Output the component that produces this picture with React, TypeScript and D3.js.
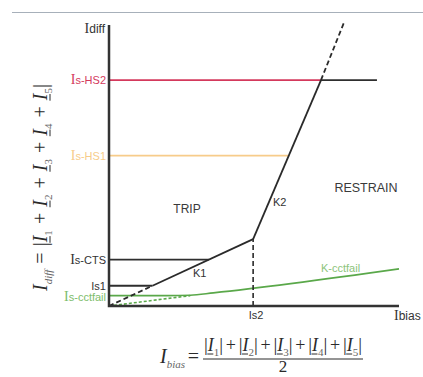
import * as d3 from "d3"
import { useRef, useEffect } from "react"

// protection levels on the Idiff axis
const levelNames = ["s-HS2", "s-HS1", "s-CTS", "Is1"]
const levelValues = [8.04, 5.35, 1.65, 0.72]
const levelColors = ["#d4395c", "#f7cc8a", "#2e2e2e", "#2e2e2e"]
const levelSerifI = [true, true, true, false]

// restraint characteristic (K1 then K2)
const charX = [0, 1.5, 4.97, 7.31, 8.1]
const charY = [0, 0.72, 2.38, 8.04, 10.08]
const charDashed = [true, false, false, true]

const is2 = 4.97
const hs2End = 9.24

// circuit fail characteristic
const cctfailLevel = 0.37
const cctX = [0, 2.0, 2.8, 3.6, 10]
const cctY = [0.37, 0.37, 0.385, 0.468, 1.32]
const cctDashX = [0, 2.8]
const cctDashY = [0, 0.37]

const SERIF = "'Liberation Serif', 'Times New Roman', serif"
const SANS = "'Liberation Sans', Arial, sans-serif"

type Tok = { t: string, size?: number, italic?: boolean, sub?: boolean, underline?: boolean, op?: boolean }

// lays tokens out one after another, spreading slack around operators
function layout(g: any, tokens: Tok[], target: number) {
  const items = tokens.map((tok) => {
    const el = g.append("text")
      .text(tok.t)
      .attr("font-family", SERIF)
      .attr("font-size", tok.size || (tok.sub ? 11 : 20))
      .attr("font-style", tok.italic ? "italic" : "normal")
      .attr("fill", tok.sub ? "#666" : "#2a2a2a")
      .attr("y", tok.sub ? 5 : 0)
    return { el, tok, w: el.node().getComputedTextLength() }
  })
  const natural = d3.sum(items, (d) => d.w)
  const ops = items.filter((d) => d.tok.op).length
  const slack = ops ? Math.max(0, (target - natural) / (2 * ops)) : 0
  let cx = 0
  items.forEach((d) => {
    if (d.tok.op) cx += slack
    d.el.attr("x", cx)
    if (d.tok.underline) {
      g.append("line")
        .attr("x1", cx - 0.5).attr("x2", cx + d.w - 0.5)
        .attr("y1", 3).attr("y2", 3)
        .attr("stroke", "#2a2a2a").attr("stroke-width", 1)
    }
    cx += d.w
    if (d.tok.op) cx += slack
  })
}

export default function App() {
  const ref = useRef<SVGSVGElement>(null)

  useEffect(() => {
    const width = 423
    const height = 377
    const svg = d3.select(ref.current)
    svg.selectAll("*").remove()
    svg.attr("width", width).attr("height", height)

    const x = d3.scaleLinear().domain([0, 10]).range([109, 399])
    const y = d3.scaleLinear().domain([0, 10]).range([306, 25])

    // top rule
    svg.append("line")
      .attr("x1", 12).attr("x2", width).attr("y1", 12.5).attr("y2", 12.5)
      .attr("stroke", "#a7b0ba").attr("stroke-width", 1.2)

    const line = d3.line<[number, number]>().x((d) => x(d[0])).y((d) => y(d[1]))

    // level lines
    const charXAt = (v: number) => {
      for (let i = 0; i < charY.length - 1; i++) {
        if (v >= charY[i] && v <= charY[i + 1]) {
          return charX[i] + (v - charY[i]) / (charY[i + 1] - charY[i]) * (charX[i + 1] - charX[i])
        }
      }
      return charX[charX.length - 1]
    }

    svg.append("path")
      .attr("d", line([[charXAt(levelValues[0]), levelValues[0]], [hs2End, levelValues[0]]]))
      .attr("stroke", "#2e2e2e").attr("stroke-width", 1.8).attr("fill", "none")

    levelValues.forEach((v, i) => {
      svg.append("path")
        .attr("d", line([[0, v], [charXAt(v), v]]))
        .attr("stroke", levelColors[i]).attr("stroke-width", 1.8).attr("fill", "none")

      const t = svg.append("text")
        .attr("x", x(0) - 3).attr("y", y(v) + 4)
        .attr("text-anchor", "end")
        .attr("fill", levelColors[i] === "#2e2e2e" ? "#333" : levelColors[i])
      if (levelSerifI[i]) {
        t.append("tspan").attr("font-family", SERIF).attr("font-size", 14).text("I")
      }
      t.append("tspan").attr("font-family", SANS).attr("font-size", 11).text(levelNames[i])
    })

    // circuit fail
    svg.append("path")
      .attr("d", line.curve(d3.curveMonotoneX)(cctX.map((d, i) => [d, cctY[i]])))
      .attr("stroke", "#5aa84a").attr("stroke-width", 1.6).attr("fill", "none")
    line.curve(d3.curveLinear)
    svg.append("path")
      .attr("d", line(cctDashX.map((d, i) => [d, cctDashY[i]])))
      .attr("stroke", "#5aa84a").attr("stroke-width", 1.6).attr("fill", "none")
      .attr("stroke-dasharray", "3,2")
    const ct = svg.append("text")
      .attr("x", x(0) - 3).attr("y", y(cctfailLevel) + 5)
      .attr("text-anchor", "end").attr("fill", "#7dbd6b")
    ct.append("tspan").attr("font-family", SERIF).attr("font-size", 14).text("I")
    ct.append("tspan").attr("font-family", SANS).attr("font-size", 11).text("s-cctfail")

    // characteristic K1 / K2
    for (let i = 0; i < charX.length - 1; i++) {
      svg.append("path")
        .attr("d", line([[charX[i], charY[i]], [charX[i + 1], charY[i + 1]]]))
        .attr("stroke", "#2a2a2a").attr("stroke-width", 1.8).attr("fill", "none")
        .attr("stroke-dasharray", charDashed[i] ? "5,3" : null)
    }

    // Is2 drop line
    svg.append("path")
      .attr("d", line([[is2, 0], [is2, charY[2]]]))
      .attr("stroke", "#2a2a2a").attr("stroke-width", 1.6).attr("fill", "none")
      .attr("stroke-dasharray", "5,3")

    // axes
    svg.append("path")
      .attr("d", line([[0, 10], [0, 0], [10, 0]]))
      .attr("stroke", "#333").attr("stroke-width", 2.5).attr("fill", "none")

    // axis labels
    const idl = svg.append("text").attr("x", x(0) - 4).attr("y", 33).attr("text-anchor", "end").attr("fill", "#333")
    idl.append("tspan").attr("font-family", SERIF).attr("font-size", 14).text("I")
    idl.append("tspan").attr("font-family", SANS).attr("font-size", 12).text("diff")

    const ibl = svg.append("text").attr("x", 394).attr("y", 320).attr("fill", "#333")
    ibl.append("tspan").attr("font-family", SERIF).attr("font-size", 14).text("I")
    ibl.append("tspan").attr("font-family", SANS).attr("font-size", 12).text("bias")

    svg.append("text").attr("x", x(is2) + 3).attr("y", 319).attr("text-anchor", "middle")
      .attr("font-family", SANS).attr("font-size", 11).attr("fill", "#333").text("Is2")

    // region and slope labels
    const lab = (tx: number, ty: number, s: string, size: number, color: string, anchor = "start") =>
      svg.append("text").attr("x", tx).attr("y", ty).attr("text-anchor", anchor)
        .attr("font-family", SANS).attr("font-size", size).attr("fill", color).text(s)
    lab(187, 213, "TRIP", 12, "#3a3a3a", "middle")
    lab(366, 192, "RESTRAIN", 12.5, "#3a3a3a", "middle")
    lab(193, 277, "K1", 11, "#333")
    lab(273, 206, "K2", 11, "#333")
    lab(321, 272, "K-cctfail", 11, "#8cc47b")

    // Idiff formula (rotated)
    const fy = svg.append("g").attr("transform", "translate(47,291) rotate(-90)")
    const yTokens: Tok[] = [
      { t: "I", italic: true }, { t: "diff", italic: true, sub: true },
      { t: "=", op: true }, { t: "|" },
    ]
    ;[1, 2, 3, 4, 5].forEach((n, i) => {
      if (i > 0) yTokens.push({ t: "+", op: true })
      yTokens.push({ t: "I", italic: true, underline: true }, { t: String(n), sub: true })
    })
    yTokens.push({ t: "|" })
    layout(fy, yTokens, 207)

    // Ibias formula
    const fb = svg.append("g").attr("transform", "translate(160,363)")
    layout(fb, [{ t: "I", italic: true }, { t: "bias", italic: true, sub: true }, { t: "=", op: true }], 42)

    const fn = svg.append("g").attr("transform", "translate(204,351)")
    const nTokens: Tok[] = []
    ;[1, 2, 3, 4, 5].forEach((n, i) => {
      if (i > 0) nTokens.push({ t: "+", op: true, size: 18 })
      nTokens.push({ t: "|", size: 19 }, { t: "I", italic: true, underline: true, size: 18 }, { t: String(n), sub: true }, { t: "|", size: 19 })
    })
    layout(fn, nTokens, 158)

    svg.append("line").attr("x1", 203).attr("x2", 363).attr("y1", 359).attr("y2", 359)
      .attr("stroke", "#2a2a2a").attr("stroke-width", 1)
    svg.append("text").attr("x", 283).attr("y", 372).attr("text-anchor", "middle")
      .attr("font-family", SERIF).attr("font-size", 17).attr("fill", "#2a2a2a").text("2")
  }, [])

  return (
    <div style={{ position: "absolute", left: 0, top: 0, background: "#fff" }}>
      <svg ref={ref}></svg>
    </div>
  )
}
